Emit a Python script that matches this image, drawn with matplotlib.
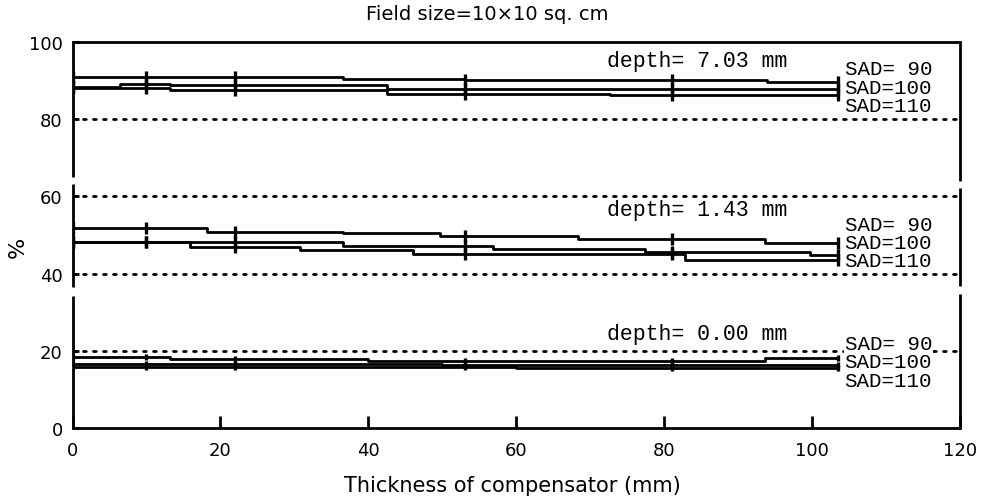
import numpy as np
import matplotlib
matplotlib.use("Agg")
import matplotlib.pyplot as plt
import matplotlib.transforms as mtransforms

plt.rcParams['font.family'] = ['DejaVu Sans']

# measurement positions (compensator thickness, mm)
marks_x = [0, 10, 22, 53, 81, 103.5]

# step traces read off the plotter output: breakpoints (x) and levels (%)
# depth 7.03 mm
d703_sad90_x = [0, 36.6, 53, 93.9, 103.5]
d703_sad90_y = [90.9, 90.5, 90.1, 89.6, 89.6]
d703_sad100_x = [0, 6.4, 13.2, 42.5, 103.5]
d703_sad100_y = [88.3, 89.0, 88.8, 87.9, 87.9]
d703_sad110_x = [0, 13.2, 42.5, 72.7, 103.5]
d703_sad110_y = [88.0, 87.6, 86.6, 86.2, 86.2]

# depth 1.43 mm
d143_sad90_x = [0, 18.2, 36.6, 49.7, 68.4, 93.6, 103.5]
d143_sad90_y = [51.7, 50.9, 50.5, 49.8, 48.9, 48.0, 48.0]
d143_sad100_x = [0, 36.6, 56.9, 77.4, 99.7, 103.5]
d143_sad100_y = [48.2, 47.2, 46.3, 45.5, 44.8, 44.8]
d143_sad110_x = [0, 15.9, 30.8, 46.1, 82.8, 103.5]
d143_sad110_y = [48.2, 46.9, 46.1, 45.2, 43.5, 43.5]

# depth 0.00 mm
d000_sad90_x = [0, 13.2, 40, 93.6, 103.5]
d000_sad90_y = [18.3, 17.9, 17.3, 18.1, 18.1]
d000_sad100_x = [0, 50, 103.5]
d000_sad100_y = [16.5, 16.3, 16.3]
d000_sad110_x = [0, 60, 103.5]
d000_sad110_y = [15.8, 15.6, 15.6]

ref_levels = [80, 60, 40, 20]
sad_labels = ['SAD= 90', 'SAD=100', 'SAD=110']

# (title, title y, traces, y of the SAD label block centre, marker size)
panels = [
    ('depth= 7.03 mm', 95.3,
     [(d703_sad90_x, d703_sad90_y), (d703_sad100_x, d703_sad100_y), (d703_sad110_x, d703_sad110_y)],
     88.3, 9),
    ('depth= 1.43 mm', 56.6,
     [(d143_sad90_x, d143_sad90_y), (d143_sad100_x, d143_sad100_y), (d143_sad110_x, d143_sad110_y)],
     48.1, 8),
    ('depth= 0.00 mm', 24.4,
     [(d000_sad90_x, d000_sad90_y), (d000_sad100_x, d000_sad100_y), (d000_sad110_x, d000_sad110_y)],
     17.1, 4),
]

fig = plt.figure(figsize=(9.83, 5.02), dpi=100)
ax = fig.add_axes([0.0738, 0.1454, 0.9028, 0.7690])
ax.set_xlim(0, 120)
ax.set_ylim(0, 100)

# dotted reference lines
for lv in ref_levels:
    ax.plot([0, 120], [lv, lv], color='black', lw=2, linestyle=(0, (1, 2.6)),
            dash_capstyle='round', zorder=2)

mono = ['Liberation Mono', 'DejaVu Sans Mono']
for title, ty, traces, label_y, msize in panels:
    for xs, ys in traces:
        ax.plot(xs, ys, color='black', lw=2, drawstyle='steps-post', zorder=3)
        idx = np.searchsorted(xs, marks_x, side='right') - 1
        idx = np.clip(idx, 0, len(ys) - 1)
        ax.plot(marks_x, np.array(ys)[idx], linestyle='none', marker='|',
                markersize=msize, markeredgewidth=2.4, color='black', zorder=4)
    ax.text(84.4, ty, title, family=mono, fontsize=15.5, ha='center', va='center')
    ax.text(104.4, label_y, '\n'.join(sad_labels), family=mono, fontsize=15,
            ha='left', va='center', linespacing=0.95, zorder=5,
            bbox=dict(facecolor='white', edgecolor='none', pad=0.3))

# frame with broken side spines
for side in ['left', 'right']:
    ax.spines[side].set_visible(False)
for side in ['top', 'bottom']:
    ax.spines[side].set_linewidth(2)
left_segments = [(65.0, 100), (36.5, 63.3), (0, 34.3)]
right_segments = [(64.0, 100), (36.8, 62.3), (0, 34.7)]
trans = mtransforms.blended_transform_factory(ax.transAxes, ax.transData)
for lo, hi in left_segments:
    ax.plot([0, 0], [lo, hi], color='black', lw=2, transform=trans, clip_on=False,
            solid_capstyle='butt')
for lo, hi in right_segments:
    ax.plot([1, 1], [lo, hi], color='black', lw=2, transform=trans, clip_on=False,
            solid_capstyle='butt')

ax.set_xticks([0, 20, 40, 60, 80, 100, 120])
ax.set_yticks([0, 20, 40, 60, 80, 100])
ax.tick_params(axis='x', direction='in', length=9, width=2, pad=9, labelsize=13)
ax.tick_params(axis='y', direction='in', length=4, width=2, pad=7, labelsize=13)

ax.set_ylabel('%', fontsize=16)
ax.yaxis.set_label_coords(-0.05, 0.47)

fig.text(487 / 983, 1 - 14 / 502, 'Field size=10\u00d710 sq. cm', fontsize=14,
         ha='center', va='center')
fig.text(512 / 983, 1 - 486 / 502, 'Thickness of compensator (mm)', fontsize=15,
         ha='center', va='center')

fig.savefig('out.png', dpi=100)
